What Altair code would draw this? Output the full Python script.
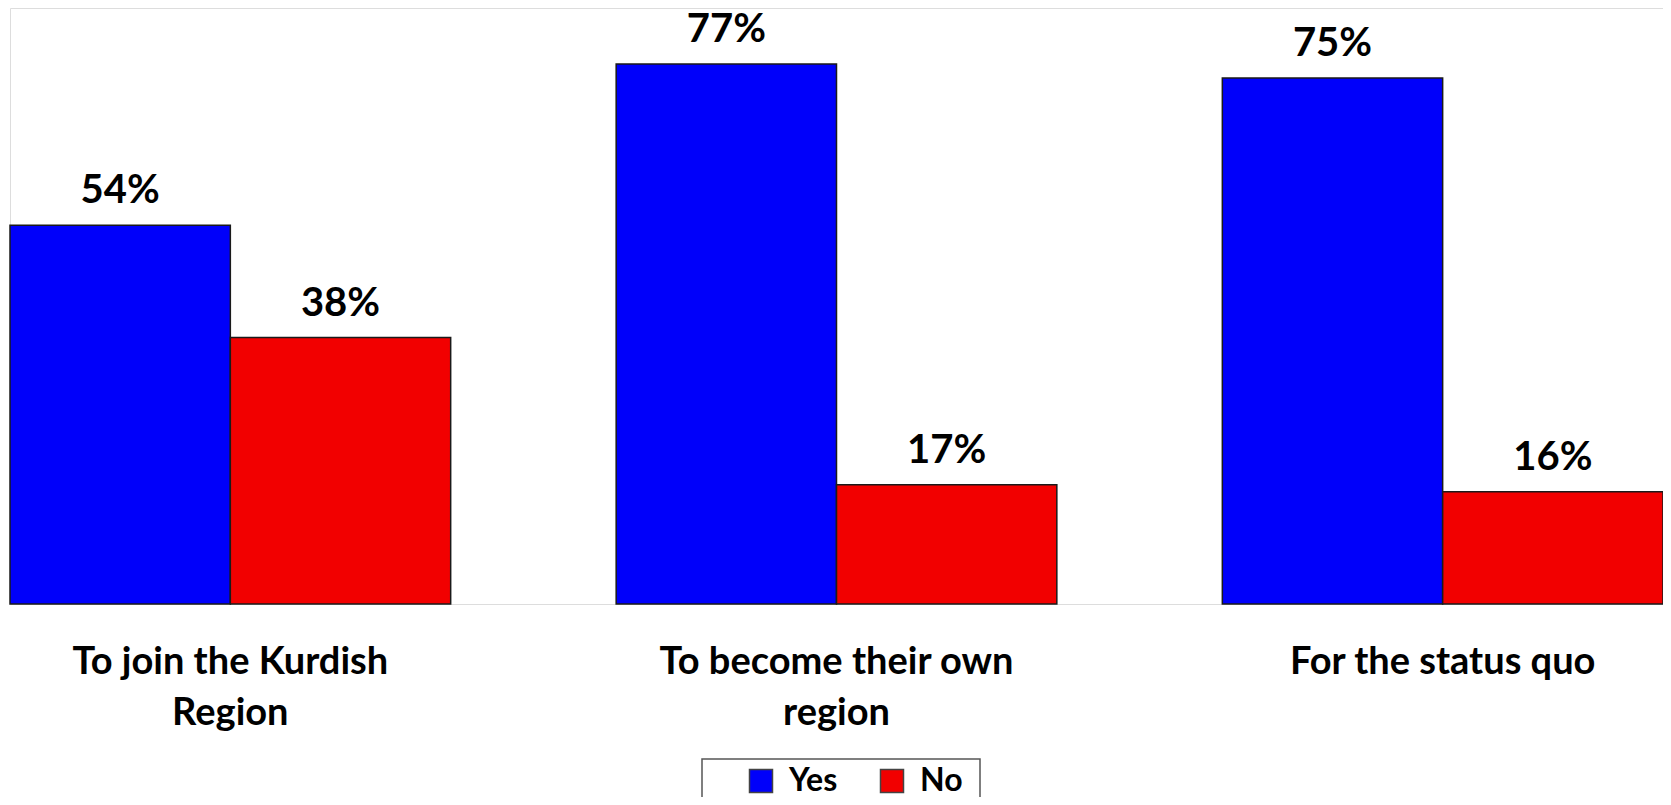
import altair as alt
import pandas as pd

categories = ["To join the Kurdish\nRegion", "To become their own\nregion", "For the status quo"]
series = ["Yes", "No"]
yes_values = [54, 77, 75]
no_values = [38, 17, 16]
colors = ["#0000FA", "#F20000"]

rows = []
for c, yv, nv in zip(categories, yes_values, no_values):
    rows.append({"category": c, "series": "Yes", "value": yv, "label": f"{yv}%"})
    rows.append({"category": c, "series": "No", "value": nv, "label": f"{nv}%"})
df = pd.DataFrame(rows)

x = alt.X(
    "category:N",
    sort=categories,
    scale=alt.Scale(paddingInner=0.273, paddingOuter=0),
    axis=alt.Axis(
        title=None, labelAngle=0, domain=False, ticks=False, tickSize=0,
        labelPadding=69, labelBaseline="alphabetic", labelFont="Lato",
        labelFontWeight="bold", labelFontSize=38, labelColor="black",
        labelLineHeight=51, labelLimit=0,
        labelExpr="split(datum.label, '\\n')",
    ),
)
xoff = alt.XOffset("series:N", sort=series, scale=alt.Scale(paddingInner=0, paddingOuter=0))
y = alt.Y("value:Q", scale=alt.Scale(domain=[0, 85], nice=False, zero=True), axis=None)

bars = alt.Chart(df).mark_bar(stroke="#1a1a1a", strokeWidth=1.5).encode(
    x=x, xOffset=xoff, y=y,
    color=alt.Color(
        "series:N", sort=series,
        scale=alt.Scale(domain=series, range=colors),
        legend=alt.Legend(
            orient="none", legendX=735, legendY=757, direction="horizontal",
            title=None, symbolType="square", symbolSize=529,
            symbolStrokeColor="#444", symbolStrokeWidth=1.5,
            labelFont="Lato", labelFontWeight="bold", labelFontSize=32,
            labelColor="black", labelOffset=12, columnPadding=38, padding=0,
        ),
    ),
)

labels = alt.Chart(df).mark_text(
    font="Lato", fontWeight="bold", fontSize=40, dy=-22,
    baseline="alphabetic", color="black",
).encode(x=x, xOffset=xoff, y=y, text="label:N")

frame_df = pd.DataFrame({"a": [0]})
frame = alt.Chart(frame_df).mark_rect(filled=False, stroke="#555555", strokeWidth=1.5).encode(
    x=alt.value(692), x2=alt.value(970), y=alt.value(751), y2=alt.value(800)
)

chart = alt.layer(bars, labels, frame).properties(
    width=1653, height=596,
    autosize=alt.AutoSizeParams(type="none"),
    padding={"left": 2, "top": 0, "right": 0, "bottom": 193},
).configure_view(stroke=None).configure(background="white")

chart.save("out.html", embed_options={"renderer": "svg", "actions": False})
